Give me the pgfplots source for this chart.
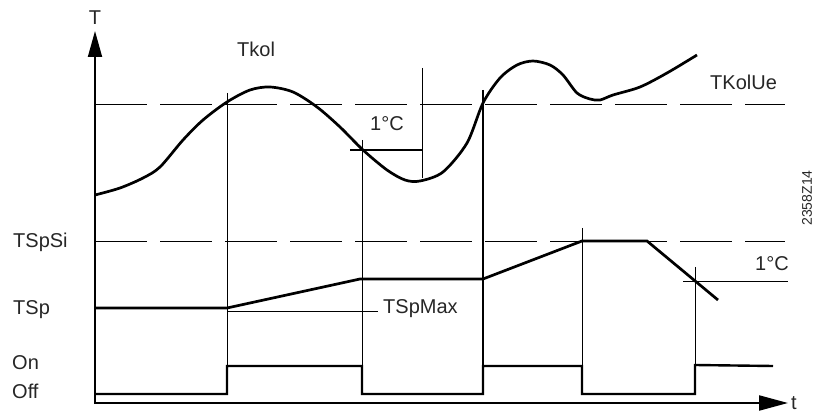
\documentclass[border=0pt]{standalone}
\usepackage{fontspec}
\setmainfont{Liberation Sans}
\usepackage{pgfplots}
\pgfplotsset{compat=1.18}
\usetikzlibrary{arrows.meta}
\begin{document}
\begin{tikzpicture}
\begin{axis}[scale only axis, width=820pt, height=414pt,
  xmin=0, xmax=820, ymin=0, ymax=414, y dir=reverse,
  hide axis, clip=false]
\path (axis cs:0,0) rectangle (axis cs:820,414);
% axes
\addplot[black, line width=1.8pt, -{Triangle[length=26pt,width=14pt]}] coordinates {(95,403) (95,31)};
\addplot[black, line width=2.2pt, -{Triangle[length=29pt,width=15pt]}] coordinates {(94,403) (788,403)};
% dashed levels
\addplot[black, line width=1pt, dash pattern=on 52pt off 13pt] coordinates {(95,105) (785,105)};
\addplot[black, line width=1pt, dash pattern=on 52pt off 13pt] coordinates {(95,242) (785,242)};
% Tkol curve
\addplot[black, line width=2.7pt, smooth, tension=0.5] coordinates {
(95,195) (120,188) (143,178) (160,167) (183,140) (203,120) (227,102) (250,90) (270,87)
(293,92) (317,107) (340,127) (363,150) (387,170) (405,180) (420,181) (443,172) (467,143)
(483,103) (500,78) (517,65) (533,61) (550,65) (563,75) (577,93) (590,99) (600,100) (613,95)
(640,87) (667,73) (697,55)};
% thin verticals
\addplot[black, line width=1pt] coordinates {(227,93) (227,394)};
\addplot[black, line width=1pt] coordinates {(362,140) (362,394)};
\addplot[black, line width=1pt] coordinates {(422,68) (422,178)};
\addplot[black, line width=2pt] coordinates {(483,90) (483,394)};
\addplot[black, line width=1pt] coordinates {(582,228) (582,394)};
\addplot[black, line width=1pt] coordinates {(695,267) (695,394)};
% 1 C lines
\addplot[black, line width=1.8pt] coordinates {(350,150) (423,150)};
\addplot[black, line width=1pt] coordinates {(683,282) (788,282)};
% TSpMax line
\addplot[black, line width=1pt] coordinates {(227,312) (378,312)};
% TSp curve
\addplot[black, line width=2.7pt, line join=miter] coordinates {
(95,308) (227,308) (360,279) (483,279) (582,241) (647,241) (718,300)};
% On/Off signal
\addplot[black, line width=2.4pt, line join=miter] coordinates {
(95,394) (227,394) (227,366) (362,366) (362,394) (483,394) (483,366) (582,366)
(582,394) (695,394) (695,365) (773,366)};
% labels
\begin{scope}[every node/.style={font=\fontsize{20}{22}\selectfont, inner sep=0pt, text=black!85}]
\node[anchor=base] at (axis cs:95,25) {T};
\node[anchor=base west] at (axis cs:791,409) {t};
\node[anchor=base west] at (axis cs:237,57) {Tkol};
\node[anchor=base west] at (axis cs:710,90) {TKolUe};
\node[anchor=base west] at (axis cs:13,248) {TSpSi};
\node[anchor=base west] at (axis cs:13,315) {TSp};
\node[anchor=base west] at (axis cs:12,370) {On};
\node[anchor=base west] at (axis cs:12,398) {Off};
\node[anchor=base west] at (axis cs:383,314) {TSpMax};
\node[anchor=base west] at (axis cs:370,131) {1°C};
\node[anchor=base west] at (axis cs:755,271) {1°C};
\end{scope}
\node[font=\fontsize{14}{16}\selectfont, rotate=90, inner sep=0pt, text=black!85] at (axis cs:807,198) {2358Z14};
\end{axis}
\end{tikzpicture}
\end{document}
